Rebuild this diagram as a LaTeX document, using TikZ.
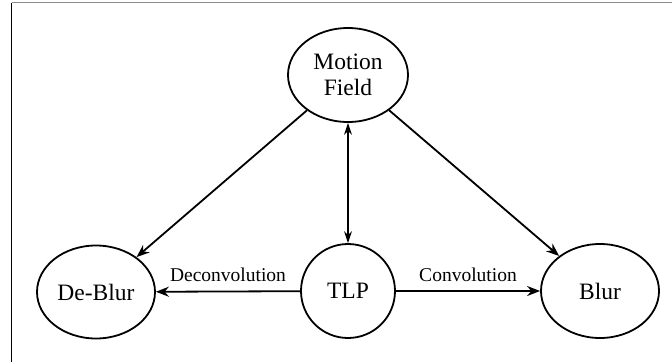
\documentclass[tikz,border=0pt]{standalone}
\usepackage{fontspec}
\setmainfont{Liberation Serif}
\usetikzlibrary{arrows.meta,shapes.geometric}
\begin{document}
\begin{tikzpicture}[x=1pt,y=-1pt,
  state/.style={draw, ellipse, line width=1.8pt, inner sep=0pt, align=center,
    font=\fontsize{23.5}{26}\selectfont},
  link/.style={line width=1.8pt, -{Stealth[length=13pt,width=10pt]}},
  twoway/.style={line width=1.8pt, {Stealth[length=12pt,width=8pt]}-{Stealth[length=12pt,width=8pt]}},
  edgelabel/.style={font=\fontsize{19.5}{22}\selectfont, anchor=base, yshift=10pt, inner sep=0pt}]
  \useasboundingbox (0,0) rectangle (672,362);

  % frame edges
  \draw[gray!90, line width=1.5pt] (11.5,2.5) -- (672,2.5);
  \draw[black, line width=1.5pt] (11.5,2.5) -- (11.5,362);

  % states
  \node[state, minimum width=120pt, minimum height=94pt] (mf) at (348,75) {Motion\\Field};
  \node[state, minimum width=118pt, minimum height=93pt] (db) at (96,292) {De-Blur};
  \node[state, minimum width=94pt, minimum height=94pt] (tlp) at (348,291) {TLP};
  \node[state, minimum width=118pt, minimum height=94pt] (bl) at (600,291) {Blur};

  % connections
  \draw[link] (mf) -- (db);
  \draw[link] (mf) -- (bl);
  \draw[twoway] (mf) -- (tlp);
  \draw[link] (tlp) -- node[edgelabel] {Deconvolution} (db);
  \draw[link] (tlp) -- node[edgelabel] {Convolution} (bl);
\end{tikzpicture}
\end{document}
